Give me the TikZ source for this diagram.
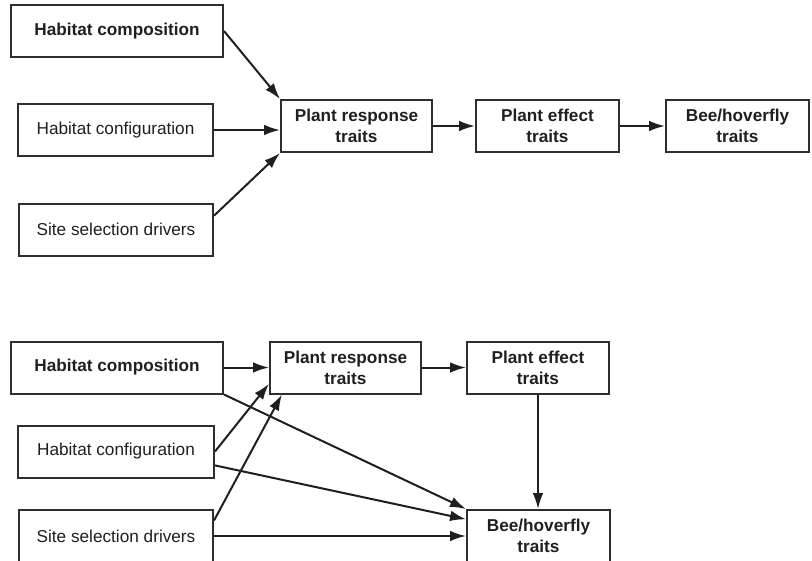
\documentclass[tikz,border=0pt]{standalone}
\usepackage{fontspec}
\setmainfont{Liberation Sans}
\usetikzlibrary{arrows.meta}
\usetikzlibrary{positioning}

\begin{document}
\begin{tikzpicture}[
  x=0.75pt, y=-0.75pt,
  box/.style={draw=black!82, line width=1.5pt, align=center, inner sep=0pt,
    minimum height=39pt, text=black!88, font=\fontsize{12.9}{15.6}\selectfont},
  link/.style={draw=black!88, line width=1.5pt, -{Latex[length=12pt, width=8pt]}},
]

  \useasboundingbox (0,0) rectangle (812,560);
  \clip (0,0) rectangle (812,560);

  % upper panel: drivers act through plant response traits only
  \node[box, minimum width=159pt] (hab-comp-a) at (117,31) {\bfseries Habitat composition};
  \node[box, minimum width=146.25pt] (hab-conf-a) at (115.5,130) {Habitat configuration};
  \node[box, minimum width=145.5pt] (site-sel-a) at (116,229.5) {Site selection drivers};

  \node[box, minimum width=113.25pt] (resp-a) at (356.5,126) {\bfseries Plant response\\\bfseries traits};
  \node[box, minimum width=107.25pt] (effect-a) at (547.5,126) {\bfseries Plant effect\\\bfseries traits};
  \node[box, minimum width=107.25pt] (bee-a) at (737.5,126) {\bfseries Bee/hoverfly\\\bfseries traits};

  \draw[link] (hab-comp-a.east) to (resp-a.north west);
  \draw[link] (hab-conf-a.east) to (hab-conf-a.east -| resp-a.west);
  \draw[link] (site-sel-a.8) to (resp-a.south west);

  % trait chain
  \draw[link] (resp-a.east) to (effect-a.west);
  \draw[link] (effect-a.east) to (bee-a.west);


  % lower panel: drivers also act on bee/hoverfly traits directly
  \node[box, minimum width=159pt] (hab-comp-b) at (117,367.5) {\bfseries Habitat composition};
  \node[box, minimum width=147pt] (hab-conf-b) at (116,451.5) {Habitat configuration};
  \node[box, minimum width=145.5pt] (site-sel-b) at (116,536) {Site selection drivers};

  \node[box, minimum width=113.25pt] (resp-b) at (345.5,367.5) {\bfseries Plant response\\\bfseries traits};
  \node[box, minimum width=106.5pt] (effect-b) at (538,367.5) {\bfseries Plant effect\\\bfseries traits};
  \node[box, minimum width=107.25pt] (bee-b) at (538.5,536) {\bfseries Bee/hoverfly\\\bfseries traits};

  % trait chain
  \draw[link] (hab-comp-b.east) to (resp-b.west);
  \draw[link] (resp-b.east) to (effect-b.west);
  \draw[link] (effect-b.south) to (effect-b.south |- bee-b.north);

  % direct and indirect paths
  \draw[link] (hab-comp-b.south east) to (bee-b.north west);
  \draw[link] (hab-conf-b.east) to (resp-b.192);
  \draw[link] (hab-conf-b.-8) to (bee-b.167);
  \draw[link] (site-sel-b.9) to (resp-b.203);
  \draw[link] (site-sel-b.east) to (bee-b.west);

\end{tikzpicture}
\end{document}
